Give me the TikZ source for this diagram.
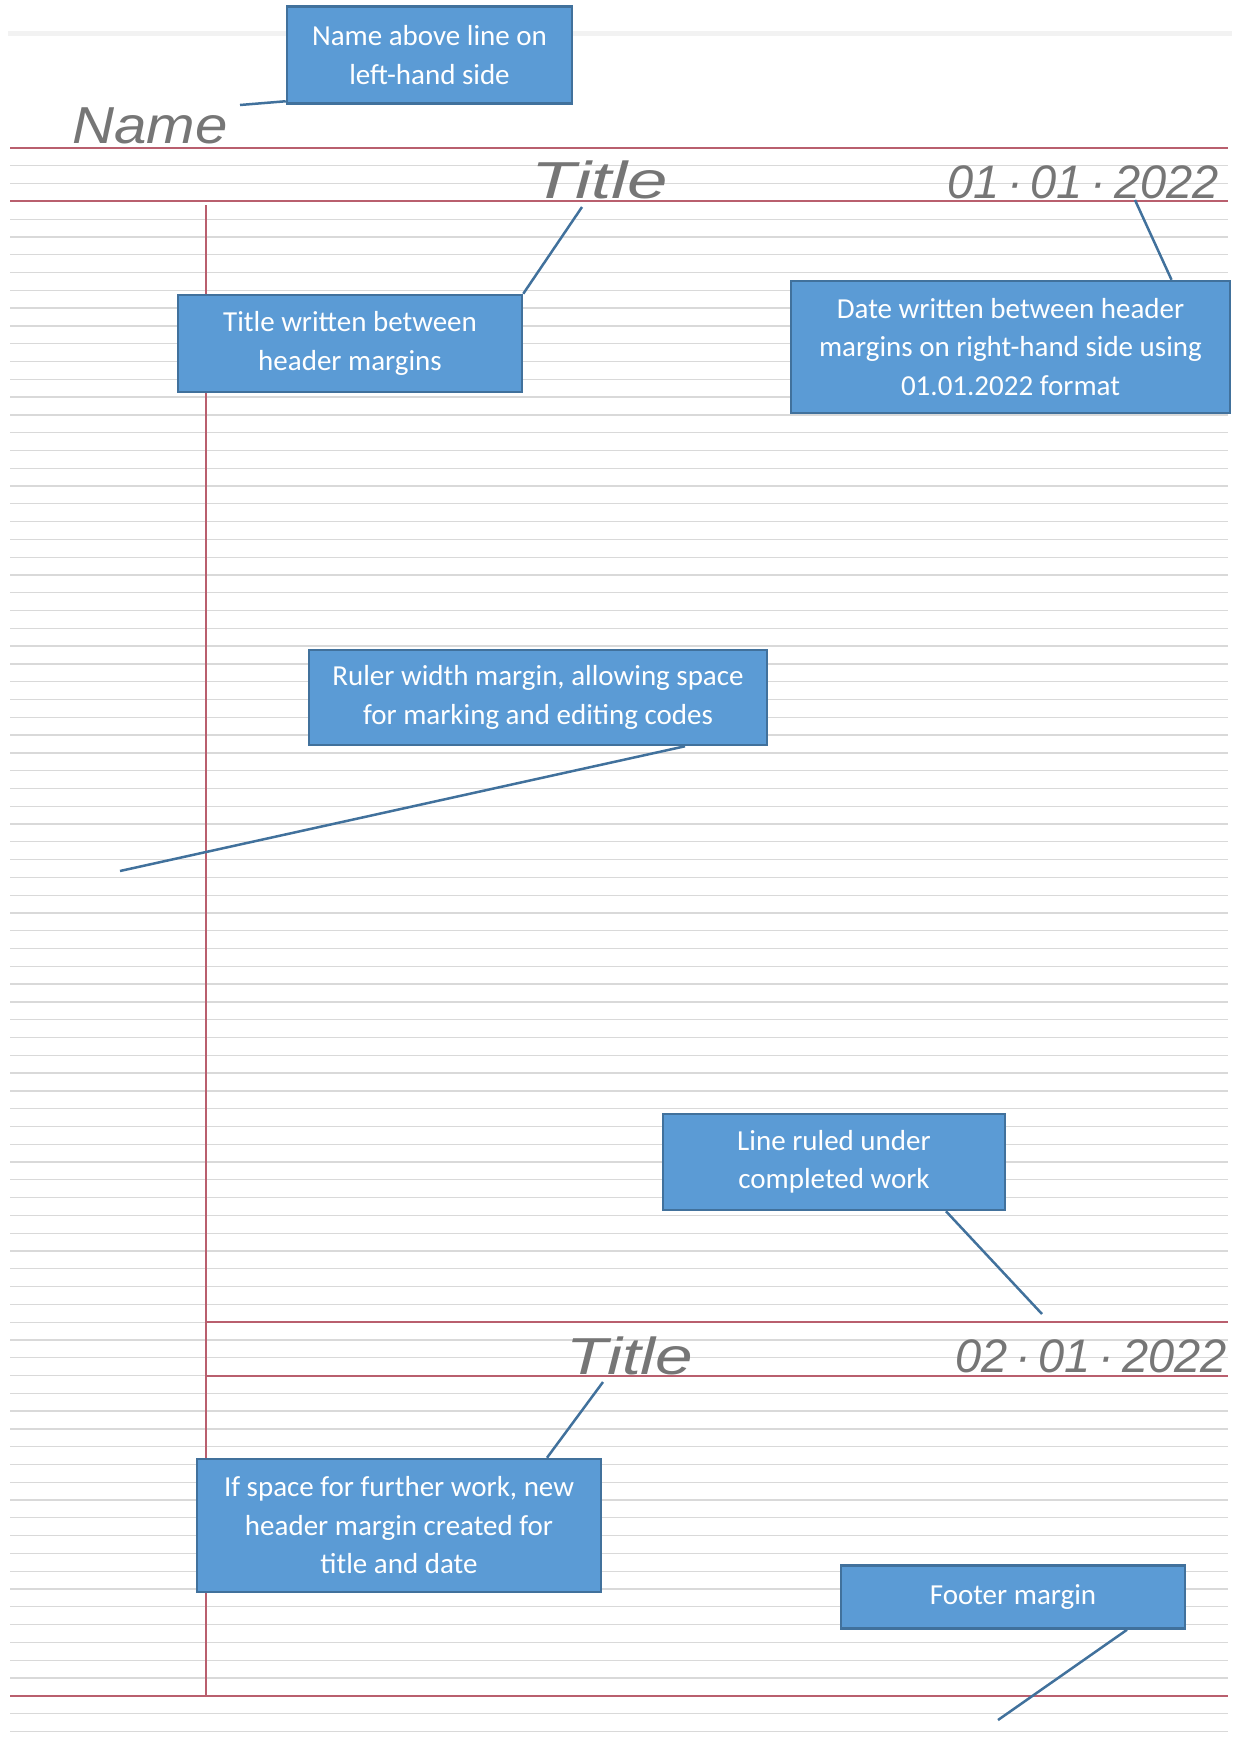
\documentclass[tikz,border=0pt]{standalone}
\usepackage{fontspec}
\setmainfont{Carlito}
\newfontfamily\handfont{Liberation Sans}

\definecolor{boxblue}{HTML}{5B9BD5}
\definecolor{boxedge}{HTML}{41719C}
\definecolor{marginred}{RGB}{185,95,110}
\definecolor{pencil}{RGB}{118,118,118}

\begin{document}
\begin{tikzpicture}[
    x=1pt, y=-1pt,
    note/.style={rectangle, draw=boxedge, line width=2.5pt, fill=boxblue, text=white,
        align=center, inner sep=0pt, font=\fontsize{29}{38.5}\selectfont},
    pointer/.style={draw=boxedge, line width=2.5pt},
    ruled/.style={black!15, line width=1.3pt},
    margin/.style={marginred, line width=2.5pt},
    hand/.style={text=pencil, inner sep=0pt, anchor=base west,
        font=\handfont\itshape\fontsize{#1}{#1}\selectfont},
    hand/.default=52
]
\useasboundingbox (0,0) rectangle (1234,1741);

% paper
\draw[black!5, line width=5pt] (8,33) -- (1232,33);
\foreach \k in {0,...,89}
    \draw[ruled] (10,{148+17.79*\k}) -- (1228,{148+17.79*\k});

% header, footer and ruler margins
\draw[margin] (10,148) -- (1228,148);
\draw[margin] (10,201) -- (1228,201);
\draw[margin] (206,1322) -- (1228,1322);
\draw[margin] (206,1376) -- (1228,1376);
\draw[margin] (10,1696) -- (1228,1696);
\draw[margin, line width=1.8pt] (206,205) -- (206,1696);

% handwriting
\node[hand, xscale=1.12] (name) at (72,143) {Name};
\node[hand, xscale=1.4] (title1) at (531,198) {Title};
\node[hand=47] (date1) at (947,198) {01\,·\,01\,·\,2022};
\node[hand, xscale=1.3] (title2) at (566,1374) {Title};
\node[hand=47] (date2) at (955,1372) {02\,·\,01\,·\,2022};

% callouts
\node[note, minimum width=285pt, minimum height=97pt] (namenote) at (429.5,55) {Name above line on\\left-hand side};
\node[note, minimum width=344pt, minimum height=97pt] (titlenote) at (350,343.5) {Title written between\\header margins};
\node[note, minimum width=439pt, minimum height=132pt] (datenote) at (1010.5,347) {Date written between header\\margins on right-hand side using\\01.01.2022 format};
\node[note, minimum width=458pt, minimum height=95pt] (rulernote) at (538,697.5) {Ruler width margin, allowing space\\for marking and editing codes};
\node[note, minimum width=342pt, minimum height=96pt] (linenote) at (834,1162) {Line ruled under\\completed work};
\node[note, minimum width=404pt, minimum height=133pt] (spacenote) at (399,1525.5) {If space for further work, new\\header margin created for\\title and date};
\node[note, minimum width=344pt, minimum height=63pt] (footernote) at (1013,1597) {Footer margin};

\coordinate (nameend) at (240,105);
\coordinate (titleend) at (582,207);
\coordinate (dateend) at (1135,200);
\coordinate (rulerend) at (120,871);
\coordinate (lineend) at (1042,1314);
\coordinate (spaceend) at (603,1382);
\coordinate (footerend) at (998,1720);

\draw[pointer] ([yshift=3.5pt]namenote.south west) -- (nameend);
\draw[pointer] (titlenote.north east) -- (titleend);
\draw[pointer] ([xshift=161pt]datenote.north) -- (dateend);
\draw[pointer] ([xshift=147pt]rulernote.south) -- (rulerend);
\draw[pointer] ([xshift=112pt]linenote.south) -- (lineend);
\draw[pointer] ([xshift=148pt]spacenote.north) -- (spaceend);
\draw[pointer] ([xshift=114pt]footernote.south) -- (footerend);
\end{tikzpicture}
\end{document}
